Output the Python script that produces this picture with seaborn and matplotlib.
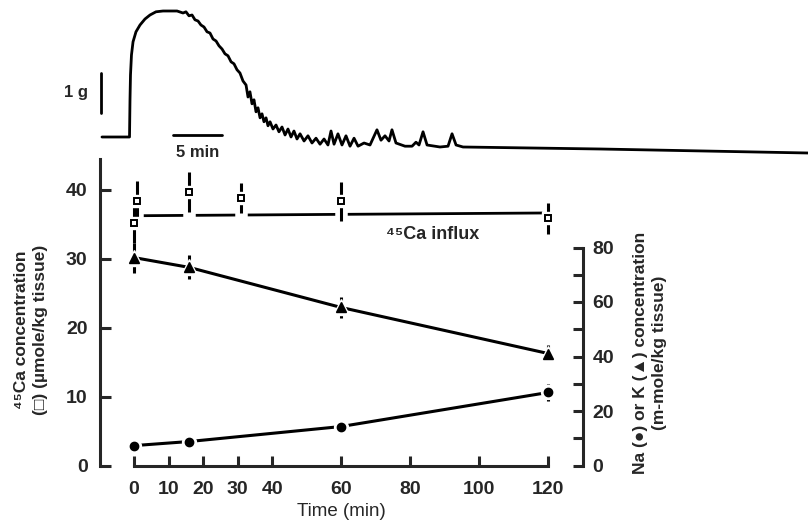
import numpy as np
import pandas as pd
import matplotlib
matplotlib.use("Agg")
import matplotlib.pyplot as plt
import matplotlib.patheffects as pe
import seaborn as sns


# tension trace (top): time in min, force in g
TRACE_T = [-2.86, -0.05, 0.0, 0.05, 0.15, 0.31, 0.61, 1.02, 1.53, 2.04, 2.65, 3.37,
           4.80, 5.41, 5.71, 6.02, 6.33, 6.63, 6.94, 7.24, 7.55, 7.86, 8.16, 8.47,
           8.78, 9.08, 9.39, 9.69, 10.00, 10.31, 10.61, 10.92, 11.22, 11.53, 11.84,
           12.04, 12.24, 12.45, 12.65, 12.86, 13.06, 13.27, 13.47, 13.67, 13.88,
           14.08, 14.29, 14.59, 14.90, 15.20, 15.51, 15.82, 16.12, 16.43, 16.73,
           17.04, 17.35, 17.76, 18.16, 18.57, 18.98, 19.39, 19.80, 20.20, 20.51,
           20.82, 21.22, 21.63, 22.04, 22.45, 22.86, 23.27, 23.88, 24.49, 25.20,
           25.61, 26.02, 26.43, 26.73, 27.14, 28.06, 28.78, 29.18, 29.49, 29.90,
           30.31, 31.63, 32.45, 32.86, 33.27, 33.98, 47.96, 69.18]
TRACE_G = [0.0, 0.0, 0.93, 1.55, 2.05, 2.38, 2.63, 2.80, 2.95, 3.05, 3.13, 3.15,
           3.15, 3.10, 3.13, 3.03, 3.05, 2.93, 2.90, 2.80, 2.75, 2.63, 2.60, 2.45,
           2.40, 2.28, 2.20, 2.08, 2.03, 1.88, 1.83, 1.68, 1.60, 1.40, 1.30,
           1.00, 1.13, 0.83, 0.93, 0.63, 0.73, 0.48, 0.58, 0.38, 0.48,
           0.28, 0.38, 0.20, 0.30, 0.13, 0.25, 0.05, 0.20, 0.0, 0.15,
           -0.05, 0.08, -0.10, 0.03, -0.15, -0.03, -0.18, -0.05, -0.20, 0.15,
           -0.18, 0.08, -0.20, 0.03, -0.23, -0.03, -0.23, -0.15, -0.20, 0.18,
           -0.08, 0.03, -0.10, 0.18, -0.15, -0.23, -0.23, -0.13, -0.20, 0.13,
           -0.20, -0.25, -0.23, 0.08, -0.20, -0.25, -0.30, -0.40]
SCALE_G = 1
SCALE_MIN = 5

# 45Ca concentration (umole/kg tissue), left axis
CA_TIME = [0, 1, 16, 31, 60, 120]
CA_CONC = [35.2, 38.3, 39.6, 38.8, 38.3, 35.8]
CA_ERR = [3.0, 3.0, 2.9, 2.2, 2.8, 2.2]
INFLUX_TIME = [1, 120]
INFLUX_CONC = [36.2, 36.6]

# Na and K (m-mole/kg tissue), right axis
ION_TIME = [0, 16, 60, 120]
K_CONC = [76.3, 72.7, 58.0, 41.1]
K_ERR = [5.5, 4.4, 3.7, 3.0]
NA_CONC = [7.3, 8.8, 14.3, 26.8]
NA_ERR = [0.5, 0.5, 0.5, 3.0]

X_TICKS = [0, 10, 20, 30, 40, 60, 80, 100, 120]


sns.set_theme(style="ticks")
plt.rcParams["font.family"] = ["Liberation Sans", "DejaVu Sans"]
plt.rcParams["font.weight"] = "bold"
plt.rcParams["axes.linewidth"] = 2.2

W, H = 808, 523
fig = plt.figure(figsize=(W / 100, H / 100), dpi=100)

# ---- top trace ----
axt = fig.add_axes([100 / W, (H - 160) / H, 708 / W, 160 / H])
axt.set_facecolor("none")
sns.lineplot(x=TRACE_T, y=TRACE_G, ax=axt, sort=False, estimator=None,
             color="black", linewidth=2.0)
axt.set_xlim(-3.061, 69.18)
axt.set_ylim(-0.575, 3.425)
axt.axis("off")
axt.plot([-2.96, -2.96], [0.6, 0.6 + SCALE_G], color="black", lw=2, clip_on=False)
axt.text(-4.3, 1.1, f"{SCALE_G} g", ha="right", va="center", fontsize=12)
axt.plot([4.39, 4.39 + SCALE_MIN], [0.05, 0.05], color="black", lw=2)
axt.text(4.39 + SCALE_MIN / 2, -0.38, f"{SCALE_MIN} min", ha="center", va="center", fontsize=12)

# ---- main panel ----
bottom_px, top_px = 465.5, 159
ax = fig.add_axes([100 / W, (H - bottom_px) / H, 483 / W, (bottom_px - top_px) / H])
ax.set_facecolor("none")
ax.set_xlim(-9.86, 130.1)
ax.set_ylim(0, (bottom_px - top_px) / 6.9)

sns.lineplot(x=INFLUX_TIME, y=INFLUX_CONC, ax=ax, color="black", linewidth=2, zorder=1)
eb = ax.errorbar(CA_TIME, CA_CONC, yerr=CA_ERR, fmt="none", ecolor="black",
                 elinewidth=2.2, capsize=0, zorder=2)
eb[2][0].set_path_effects([pe.Stroke(linewidth=9, foreground="white", capstyle="projecting"),
                           pe.Normal()])
ax.plot(CA_TIME, CA_CONC, ls="none", marker="s", ms=8, mfc="white", mec="white", zorder=3)
ax.plot(CA_TIME, CA_CONC, ls="none", marker="s", ms=5, mfc="white", mec="black",
        mew=1.4, zorder=4)
ax.text(73, 33.5, "⁴⁵Ca influx", fontsize=13, va="center", ha="left")

ax2 = ax.twinx()
ax2.set_facecolor("none")
ax2.set_ylim(0, (bottom_px - top_px) / 2.725)
for conc, err, mk, ms in [(K_CONC, K_ERR, "^", 7), (NA_CONC, NA_ERR, "o", 6)]:
    sns.lineplot(x=ION_TIME, y=conc, ax=ax2, color="black", linewidth=2.2, zorder=1)
    ax2.errorbar(ION_TIME, conc, yerr=err, fmt="none", ecolor="black",
                 elinewidth=2.2, capsize=0, zorder=2)
    ax2.plot(ION_TIME, conc, ls="none", marker=mk, ms=ms + 4, color="white", zorder=3)
    ax2.plot(ION_TIME, conc, ls="none", marker=mk, ms=ms, color="black", zorder=4)

# spines & ticks
for a in (ax, ax2):
    a.spines["top"].set_visible(False)
    a.grid(False)
ax.spines["right"].set_visible(False)
ax2.spines["left"].set_visible(False)
ax2.spines["bottom"].set_visible(False)
ax.spines["bottom"].set_bounds(0, 120)
ax2.spines["right"].set_bounds(0, 80)

ax.set_xticks(X_TICKS)
ax.set_yticks([0, 10, 20, 30, 40])
ax.tick_params(axis="x", direction="in", length=7, width=2.2, pad=11, labelsize=14)
ax.tick_params(axis="y", direction="in", length=8, width=2.2, pad=9, labelsize=14)
ax2.set_yticks([0, 20, 40, 60, 80])
ax2.set_yticks([10, 30, 50, 70], minor=True)
ax2.tick_params(axis="y", which="both", direction="in", length=7, width=2.2, pad=7, labelsize=14)
ax.set_xlabel("Time (min)", fontsize=13.5, labelpad=4)
ax.set_ylabel("")
ax2.set_ylabel("")

fig.text(31 / W, 1 - 330 / H, "⁴⁵Ca concentration\n(□) (µmole/kg tissue)", rotation=90,
         ha="center", va="center", multialignment="center", fontsize=12.5, linespacing=1.4)
fig.text(650 / W, 1 - 353 / H, "Na (●) or K (▲) concentration\n(m-mole/kg tissue)", rotation=90,
         ha="center", va="center", multialignment="center", fontsize=12.5, linespacing=1.35)

fig.savefig("out.png", dpi=100)
